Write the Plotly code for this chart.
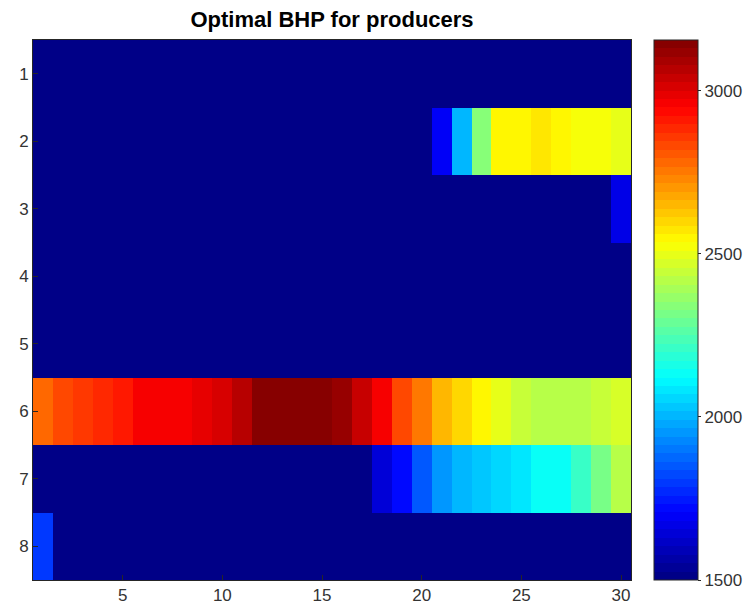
import numpy as np
import plotly.graph_objects as go

# ---- data ----
wells = [1, 2, 3, 4, 5, 6, 7, 8]
steps = list(range(1, 31))

row1 = [1500] * 30
row2 = [1500] * 20 + [1705, 2017, 2328, 2545, 2555, 2576, 2540, 2520, 2510, 2505]
row3 = [1500] * 29 + [1680]
row4 = [1500] * 30
row5 = [1500] * 30
row6 = [2790, 2825, 2858, 2880, 2915, 2950, 2950, 2950, 2978, 3011,
        3065, 3150, 3150, 3150, 3135, 3106, 3032, 2958, 2825, 2742,
        2651, 2594, 2535, 2494, 2444, 2419, 2415, 2415, 2435, 2480]
row7 = [1500] * 17 + [1650, 1725, 1852, 1955, 1997, 2038, 2059, 2088, 2121,
                      2130, 2212, 2311, 2430]
row8 = [1800] + [1500] * 29

z = [row1, row2, row3, row4, row5, row6, row7, row8]
zmin, zmax = 1500, 3156
cbar_ticks = [1500, 2000, 2500, 3000]
x_ticks = [5, 10, 15, 20, 25, 30]

# ---- MATLAB jet colormap, 64 levels, stepped ----
def jet(t):
    r = np.clip(1.5 - abs(4 * t - 3), 0, 1)
    g = np.clip(1.5 - abs(4 * t - 2), 0, 1)
    b = np.clip(1.5 - abs(4 * t - 1), 0, 1)
    return r, g, b

N = 64
colorscale = []
for i in range(N):
    t = (i + 0.5) / N
    r, g, b = jet(t)
    c = f"rgb({int(round(r*255))},{int(round(g*255))},{int(round(b*255))})"
    colorscale.append([i / N, c])
    colorscale.append([(i + 1) / N, c])

L, R, T, B = 33, 121, 40, 35
W, H = 752, 615
plot_w = W - L - R
FONT = "Liberation Sans, Arial"

fig = go.Figure(go.Heatmap(
    z=z, x=steps, y=wells,
    zmin=zmin, zmax=zmax,
    colorscale=colorscale,
    xgap=0, ygap=0,
    colorbar=dict(
        x=1 + (654 - (W - R)) / plot_w, xanchor="left", xref="paper",
        y=0, yanchor="bottom", len=1, lenmode="fraction",
        thickness=44, thicknessmode="pixels",
        xpad=0, ypad=0,
        outlinewidth=1, outlinecolor="#262626",
        tickvals=cbar_ticks, ticks="outside", ticklen=3,
        tickcolor="#262626",
        tickfont=dict(family=FONT, size=17, color="#333333"),
    ),
))

fig.update_layout(
    width=W, height=H,
    margin=dict(l=L, r=R, t=T, b=B, autoexpand=False),
    paper_bgcolor="white", plot_bgcolor="white",
    title=dict(text="<b>Optimal BHP for producers</b>", x=(L + plot_w / 2) / W,
               xanchor="center", y=1 - 19 / H, yanchor="middle",
               font=dict(family=FONT, size=22, color="black")),
    font=dict(family=FONT, size=17, color="#333333"),
)
fig.update_xaxes(range=[0.5, 30.5], tickvals=x_ticks, ticks="inside", ticklen=5,
                 tickcolor="#262626", showline=True, linecolor="#262626",
                 linewidth=1, mirror=True, showgrid=False, zeroline=False,
                 tickfont=dict(family=FONT, size=17, color="#333333"))
fig.update_yaxes(range=[8.5, 0.5], tickvals=wells, ticks="inside", ticklen=5,
                 tickcolor="#262626", showline=True, linecolor="#262626",
                 linewidth=1, mirror=True, showgrid=False, zeroline=False,
                 tickfont=dict(family=FONT, size=17, color="#333333"))

fig.write_html("out.html")
